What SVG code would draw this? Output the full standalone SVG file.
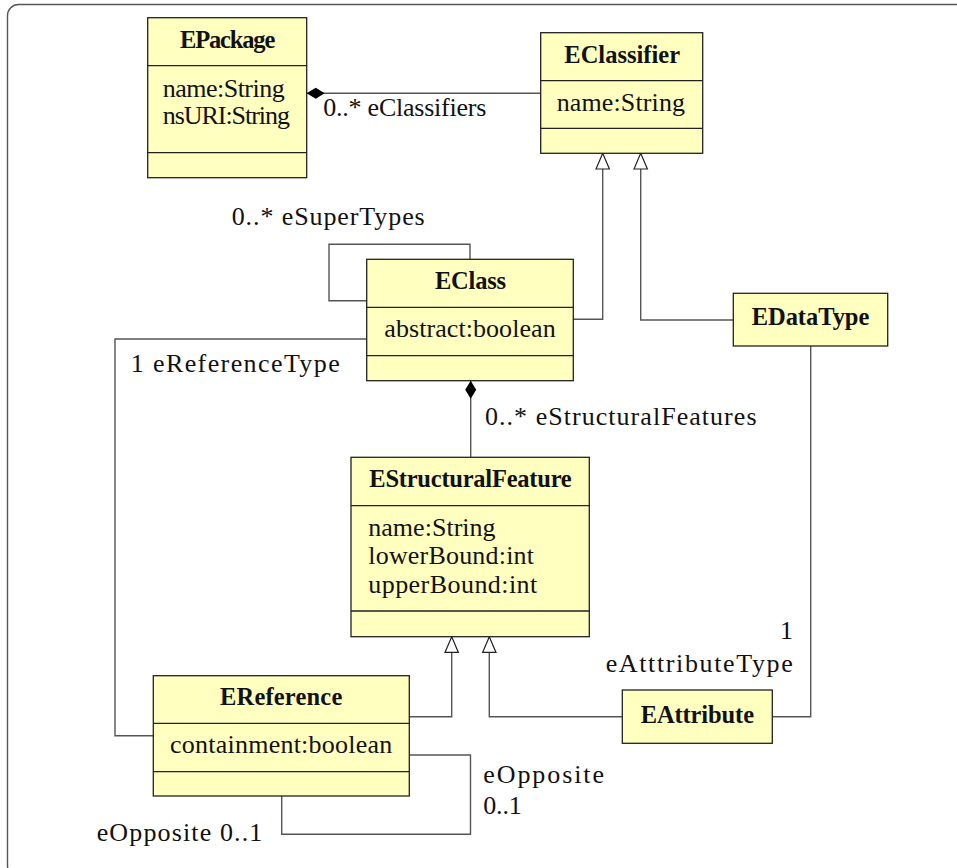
<svg xmlns="http://www.w3.org/2000/svg" width="957" height="868" viewBox="0 0 957 868">
<style>
  .frame { fill: none; stroke: #555; stroke-width: 1.4; }
  .box { fill: #FFFFC0; stroke: #222; stroke-width: 1.3; }
  .div { stroke: #222; stroke-width: 1.3; }
  .conn { fill: none; stroke: #555; stroke-width: 1.4; }
  .t { font-family: "Liberation Serif", "Times New Roman", serif; font-size: 26px; fill: #111; }
  .b { font-family: "Liberation Serif", "Times New Roman", serif; font-size: 24.5px; font-weight: bold; fill: #111; }
</style>
<defs>
  <marker id="diamond" markerUnits="userSpaceOnUse" markerWidth="20" markerHeight="14" viewBox="0 -7 20 14" refX="18.5" refY="0" orient="auto">
    <path d="M0.5,0 L9.5,-5.5 L18.5,0 L9.5,5.5 z" fill="#000" stroke="none"/>
  </marker>
  <marker id="tri" markerUnits="userSpaceOnUse" markerWidth="18" markerHeight="16" viewBox="0 -8 18 16" refX="16.5" refY="0" orient="auto">
    <path d="M0.8,-6.7 L16.5,0 L0.8,6.7 z" fill="#fff" stroke="#222" stroke-width="1.2"/>
  </marker>
</defs>

<rect class="frame" x="7.5" y="4.5" width="1000" height="872" rx="11" ry="11"/>

<g id="connectors">
  <path class="conn" d="M540.7,93.3 H306.7" marker-end="url(#diamond)"/>
  <path class="conn" d="M573.3,319.3 H602.7 V153.3" marker-end="url(#tri)"/>
  <path class="conn" d="M733.3,320 H640.7 V153.3" marker-end="url(#tri)"/>
  <path class="conn" d="M366.7,300.7 H329 V244.3 H470 V259.3"/>
  <path class="conn" d="M366.7,339 H115 V735.7 H153.3"/>
  <path class="conn" d="M470.7,457.3 V380.7" marker-end="url(#diamond)"/>
  <path class="conn" d="M409.3,716.7 H451.7 V636.7" marker-end="url(#tri)"/>
  <path class="conn" d="M622.3,716.7 H489.3 V636.7" marker-end="url(#tri)"/>
  <path class="conn" d="M810.7,346 V716.7 H772.3"/>
  <path class="conn" d="M409.3,755 H470.5 V834.3 H281.7 V796"/>
  <text class="t" x="323.3" y="116" textLength="163" lengthAdjust="spacing">0..* eClassifiers</text>
  <text class="t" x="231.7" y="225" textLength="193" lengthAdjust="spacing">0..* eSuperTypes</text>
  <text class="t" x="130.7" y="371.7" textLength="209" lengthAdjust="spacing">1 eReferenceType</text>
  <text class="t" x="485" y="425" textLength="271.5" lengthAdjust="spacing">0..* eStructuralFeatures</text>
  <text class="t" x="780" y="639">1</text>
  <text class="t" x="605.7" y="671.7" textLength="187" lengthAdjust="spacing">eAtttributeType</text>
  <text class="t" x="483.3" y="782.7" textLength="120.7" lengthAdjust="spacing">eOpposite</text>
  <text class="t" x="483.3" y="814" textLength="38.4" lengthAdjust="spacing">0..1</text>
  <text class="t" x="96.7" y="840.7" textLength="165.6" lengthAdjust="spacing">eOpposite 0..1</text>
</g>

<g id="EPackage">
  <rect class="box" x="147.7" y="17.7" width="159" height="160"/>
  <line class="div" x1="147.7" y1="65.7" x2="306.7" y2="65.7"/>
  <line class="div" x1="147.7" y1="152.7" x2="306.7" y2="152.7"/>
  <text class="b" x="180" y="48.3" textLength="95.3" lengthAdjust="spacing">EPackage</text>
  <text class="t" x="162.7" y="97.3" textLength="122" lengthAdjust="spacing">name:String</text>
  <text class="t" x="162.7" y="124.3" textLength="127.3" lengthAdjust="spacing">nsURI:String</text>
</g>

<g id="EClassifier">
  <rect class="box" x="540.7" y="32.7" width="162" height="120.6"/>
  <line class="div" x1="540.7" y1="80.7" x2="702.7" y2="80.7"/>
  <line class="div" x1="540.7" y1="128.3" x2="702.7" y2="128.3"/>
  <text class="b" x="564.3" y="63.3" textLength="115.7" lengthAdjust="spacing">EClassifier</text>
  <text class="t" x="556.7" y="111" textLength="128.3" lengthAdjust="spacing">name:String</text>
</g>

<g id="EClass">
  <rect class="box" x="366.7" y="259.3" width="206.6" height="121.4"/>
  <line class="div" x1="366.7" y1="307.3" x2="573.3" y2="307.3"/>
  <line class="div" x1="366.7" y1="355.7" x2="573.3" y2="355.7"/>
  <text class="b" x="435" y="289.3" textLength="71" lengthAdjust="spacing">EClass</text>
  <text class="t" x="384.3" y="336.7" textLength="171.4" lengthAdjust="spacing">abstract:boolean</text>
</g>

<g id="EDataType">
  <rect class="box" x="733.3" y="293.3" width="154.4" height="52.7"/>
  <text class="b" x="751.7" y="325" textLength="117.6" lengthAdjust="spacing">EDataType</text>
</g>

<g id="EStructuralFeature">
  <rect class="box" x="351" y="457.3" width="238.3" height="179.4"/>
  <line class="div" x1="351" y1="505.7" x2="589.3" y2="505.7"/>
  <line class="div" x1="351" y1="611" x2="589.3" y2="611"/>
  <text class="b" x="369.3" y="486.7" textLength="202.4" lengthAdjust="spacing">EStructuralFeature</text>
  <text class="t" x="368.3" y="536" textLength="127.3" lengthAdjust="spacing">name:String</text>
  <text class="t" x="368.3" y="564.3" textLength="165.7" lengthAdjust="spacing">lowerBound:int</text>
  <text class="t" x="368.3" y="593.3" textLength="169" lengthAdjust="spacing">upperBound:int</text>
</g>

<g id="EReference">
  <rect class="box" x="153.3" y="675.7" width="256" height="120.3"/>
  <line class="div" x1="153.3" y1="723.3" x2="409.3" y2="723.3"/>
  <line class="div" x1="153.3" y1="771.7" x2="409.3" y2="771.7"/>
  <text class="b" x="220" y="705" textLength="122.3" lengthAdjust="spacing">EReference</text>
  <text class="t" x="170" y="753.3" textLength="222.3" lengthAdjust="spacing">containment:boolean</text>
</g>

<g id="EAttribute">
  <rect class="box" x="622.3" y="690" width="150" height="53.3"/>
  <text class="b" x="640.7" y="723.3" textLength="113.3" lengthAdjust="spacing">EAttribute</text>
</g>
</svg>
